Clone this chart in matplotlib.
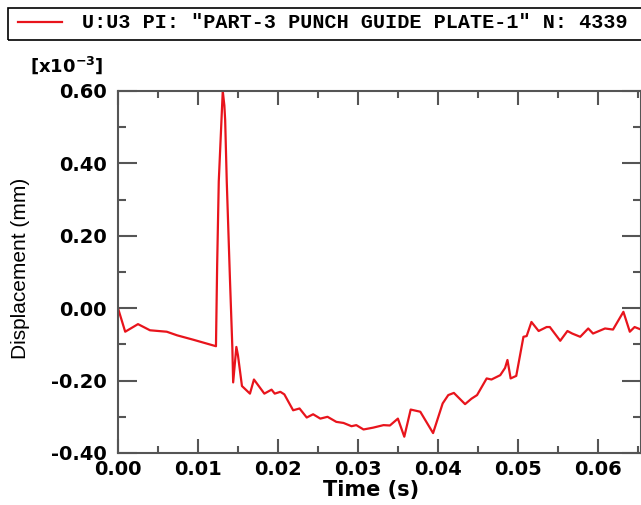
import matplotlib
matplotlib.use("Agg")
import matplotlib.pyplot as plt
from matplotlib.lines import Line2D
from matplotlib.patches import Rectangle
from matplotlib.ticker import MultipleLocator, FormatStrFormatter

# time (s) and displacement U3 (x1e-3 mm)
time_s = [
    0.0000, 0.0009, 0.0025, 0.0040, 0.0061, 0.0074, 0.0094, 0.01225,
    0.0124, 0.0126, 0.0131, 0.0133, 0.0134, 0.0136, 0.0140, 0.0143,
    0.0144, 0.0148, 0.0150, 0.0155, 0.0165, 0.0170, 0.0183, 0.0192,
    0.0196, 0.0203, 0.0208, 0.0219, 0.0227, 0.0236, 0.0244, 0.0253,
    0.0262, 0.0273, 0.0282, 0.0292, 0.0298, 0.0307, 0.0319, 0.0332,
    0.0340, 0.0350, 0.0358, 0.0366, 0.0378, 0.0394, 0.0406, 0.0413,
    0.0420, 0.0434, 0.0442, 0.0449, 0.0461, 0.0467, 0.0478, 0.0484,
    0.0487, 0.0491, 0.0498, 0.0507, 0.0511, 0.0517, 0.0526, 0.0536,
    0.0540, 0.0553, 0.0562, 0.0568, 0.0578, 0.0588, 0.0594, 0.0609,
    0.0619, 0.0632, 0.0640, 0.0646, 0.0654,
]
u3 = [
    0.000, -0.065, -0.044, -0.061, -0.065, -0.075, -0.087, -0.105,
    0.120, 0.350, 0.600, 0.560, 0.520, 0.350, 0.080, -0.110,
    -0.205, -0.107, -0.130, -0.215, -0.236, -0.197, -0.236, -0.225,
    -0.236, -0.231, -0.238, -0.282, -0.277, -0.302, -0.293, -0.305,
    -0.300, -0.314, -0.317, -0.326, -0.323, -0.335, -0.330, -0.323,
    -0.324, -0.305, -0.355, -0.280, -0.286, -0.345, -0.263, -0.240,
    -0.234, -0.265, -0.250, -0.240, -0.194, -0.197, -0.185, -0.165,
    -0.143, -0.194, -0.187, -0.079, -0.077, -0.038, -0.063, -0.052,
    -0.052, -0.090, -0.063, -0.070, -0.079, -0.056, -0.070, -0.056,
    -0.059, -0.010, -0.065, -0.052, -0.059,
]
legend_label = 'U:U3 PI: "PART-3 PUNCH GUIDE PLATE-1" N: 4339'

W, H = 641, 505
fig = plt.figure(figsize=(W / 100, H / 100), dpi=100)
ax = fig.add_axes([118 / W, 1 - 453 / H, (W - 118) / W, (453 - 91) / H])

ax.plot(time_s, u3, color="#e8141c", linewidth=1.6)

ax.set_xlim(0, 0.0654)
ax.set_ylim(-0.40, 0.60)
ax.xaxis.set_major_locator(MultipleLocator(0.01))
ax.xaxis.set_minor_locator(MultipleLocator(0.005))
ax.yaxis.set_major_locator(MultipleLocator(0.2))
ax.yaxis.set_minor_locator(MultipleLocator(0.1))
ax.xaxis.set_major_formatter(FormatStrFormatter("%.2f"))
ax.yaxis.set_major_formatter(FormatStrFormatter("%.2f"))

frame = "#555555"
for sp in ax.spines.values():
    sp.set_color(frame)
    sp.set_linewidth(1.5)
ax.tick_params(which="both", direction="in", top=True, right=True,
               color=frame, width=1.5)
ax.tick_params(axis="y", which="major", length=14, pad=8)
ax.tick_params(axis="y", which="minor", length=6)
ax.tick_params(axis="x", which="major", length=10, pad=5)
ax.tick_params(axis="x", which="minor", length=5)
for lab in ax.get_xticklabels() + ax.get_yticklabels():
    lab.set_fontfamily("DejaVu Sans")
    lab.set_fontweight("bold")
    lab.set_fontsize(14)

plt.rcParams["mathtext.fontset"] = "dejavusans"
plt.rcParams["mathtext.default"] = "bf"
fig.text(30 / W, 1 - 65 / H, r"[x10$^{-3}$]", fontsize=13,
         fontweight="bold", family="DejaVu Sans", ha="left", va="center")
fig.text(21 / W, 1 - 268 / H, "Displacement (mm)", rotation=90,
         fontsize=15, family="Liberation Sans", ha="center", va="center")
fig.text(371 / W, 1 - 490 / H, "Time (s)", fontsize=15, fontweight="bold",
         family="DejaVu Sans", ha="center", va="center")

# legend box across the top
fig.patches.append(Rectangle((8 / W, 1 - 40 / H), 1.0, 32 / H,
                             transform=fig.transFigure, fill=False,
                             edgecolor="black", linewidth=1.2))
fig.lines.append(Line2D([18 / W, 62 / W], [1 - 22 / H, 1 - 22 / H],
                        transform=fig.transFigure, color="#e8141c",
                        linewidth=1.6))
fig.text(82 / W, 1 - 23 / H, legend_label, fontsize=14.5, fontweight="bold",
         family="Liberation Mono", ha="left", va="center")

fig.savefig("out.png", dpi=100)
